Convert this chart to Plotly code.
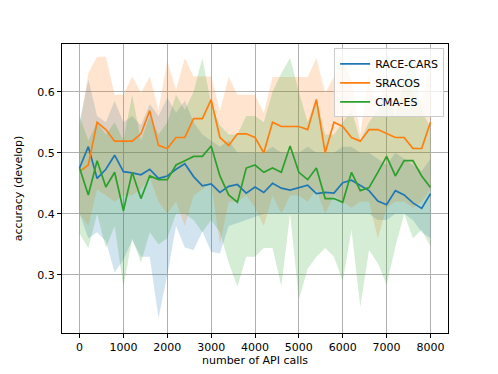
import plotly.graph_objects as go

api_calls = [0, 200, 400, 600, 800, 1000, 1200, 1400, 1600, 1800, 2000, 2200, 2400, 2600,
             2800, 3000, 3200, 3400, 3600, 3800, 4000, 4200, 4400, 4600, 4800, 5000, 5200,
             5400, 5600, 5800, 6000, 6200, 6400, 6600, 6800, 7000, 7200, 7400, 7600, 7800, 8000]

race_cars_mean = [0.475, 0.510, 0.458, 0.473, 0.496, 0.469, 0.467, 0.464, 0.473, 0.458, 0.462,
                  0.473, 0.482, 0.461, 0.446, 0.449, 0.435, 0.445, 0.448, 0.434, 0.444, 0.435,
                  0.450, 0.442, 0.439, 0.443, 0.447, 0.433, 0.435, 0.434, 0.451, 0.455, 0.446,
                  0.438, 0.421, 0.415, 0.438, 0.431, 0.418, 0.409, 0.433]
race_cars_upper = [0.55, 0.62, 0.56, 0.55, 0.585, 0.55, 0.56, 0.545, 0.58, 0.56, 0.59, 0.565,
                   0.585, 0.55, 0.53, 0.52, 0.51, 0.52, 0.50, 0.50, 0.50, 0.50, 0.51, 0.50, 0.50,
                   0.50, 0.51, 0.50, 0.50, 0.50, 0.51, 0.51, 0.50, 0.50, 0.49, 0.48, 0.50, 0.49,
                   0.48, 0.47, 0.49]
race_cars_lower = [0.40, 0.36, 0.37, 0.355, 0.304, 0.325, 0.357, 0.33, 0.33, 0.229, 0.30, 0.38,
                   0.345, 0.341, 0.371, 0.338, 0.335, 0.38, 0.385, 0.39, 0.395, 0.40, 0.40, 0.40,
                   0.40, 0.40, 0.40, 0.40, 0.40, 0.40, 0.40, 0.40, 0.40, 0.40, 0.39, 0.39, 0.40,
                   0.40, 0.39, 0.37, 0.36]

sracos_mean = [0.469, 0.480, 0.550, 0.538, 0.519, 0.519, 0.519, 0.531, 0.569, 0.512, 0.507,
               0.525, 0.525, 0.556, 0.556, 0.587, 0.525, 0.512, 0.531, 0.531, 0.525, 0.500,
               0.550, 0.543, 0.543, 0.543, 0.538, 0.587, 0.500, 0.550, 0.543, 0.525, 0.519,
               0.538, 0.538, 0.531, 0.525, 0.525, 0.507, 0.507, 0.550]
sracos_upper = [0.54, 0.63, 0.657, 0.657, 0.595, 0.595, 0.625, 0.598, 0.625, 0.57, 0.65, 0.603,
                0.655, 0.625, 0.625, 0.625, 0.568, 0.624, 0.595, 0.595, 0.595, 0.565, 0.624,
                0.624, 0.624, 0.624, 0.624, 0.655, 0.598, 0.624, 0.65, 0.62, 0.53, 0.63, 0.56,
                0.63, 0.60, 0.62, 0.60, 0.58, 0.65]
sracos_lower = [0.40, 0.38, 0.44, 0.43, 0.42, 0.43, 0.43, 0.44, 0.46, 0.42, 0.40, 0.42, 0.38,
                0.43, 0.44, 0.45, 0.35, 0.42, 0.42, 0.43, 0.41, 0.38, 0.43, 0.40, 0.43, 0.43,
                0.42, 0.44, 0.40, 0.43, 0.42, 0.41, 0.42, 0.42, 0.36, 0.41, 0.42, 0.42, 0.41,
                0.42, 0.44]

cma_es_mean = [0.475, 0.431, 0.487, 0.444, 0.468, 0.405, 0.468, 0.425, 0.462, 0.456, 0.456,
               0.480, 0.487, 0.494, 0.494, 0.511, 0.462, 0.431, 0.419, 0.475, 0.480, 0.468,
               0.475, 0.468, 0.511, 0.468, 0.456, 0.475, 0.425, 0.425, 0.419, 0.468, 0.438,
               0.443, 0.468, 0.494, 0.462, 0.487, 0.487, 0.462, 0.443]
cma_es_upper = [0.56, 0.52, 0.55, 0.53, 0.55, 0.52, 0.595, 0.52, 0.56, 0.53, 0.55, 0.595, 0.57,
                0.60, 0.655, 0.58, 0.545, 0.53, 0.53, 0.56, 0.56, 0.55, 0.60, 0.63, 0.655, 0.60,
                0.55, 0.59, 0.53, 0.53, 0.55, 0.57, 0.52, 0.55, 0.57, 0.60, 0.56, 0.62, 0.66,
                0.57, 0.54]
cma_es_lower = [0.368, 0.344, 0.40, 0.344, 0.38, 0.28, 0.36, 0.32, 0.37, 0.35, 0.36, 0.40, 0.40,
                0.39, 0.37, 0.39, 0.37, 0.32, 0.281, 0.33, 0.33, 0.344, 0.344, 0.281, 0.40, 0.26,
                0.31, 0.33, 0.344, 0.33, 0.29, 0.374, 0.248, 0.341, 0.319, 0.284, 0.346, 0.40,
                0.36, 0.374, 0.346]

SERIES = [
    ("RACE-CARS", race_cars_mean, race_cars_lower, race_cars_upper, "#1f77b4", "rgba(31,119,180,0.2)"),
    ("SRACOS", sracos_mean, sracos_lower, sracos_upper, "#ff7f0e", "rgba(255,127,14,0.2)"),
    ("CMA-ES", cma_es_mean, cma_es_lower, cma_es_upper, "#2ca02c", "rgba(44,160,44,0.2)"),
]

fig = go.Figure()

# shaded bands first, lines on top
for name, mean, lower, upper, color, band in SERIES:
    fig.add_trace(go.Scatter(x=api_calls, y=lower, mode="lines", line=dict(width=0),
                             showlegend=False, hoverinfo="skip"))
    fig.add_trace(go.Scatter(x=api_calls, y=upper, mode="lines", line=dict(width=0),
                             fill="tonexty", fillcolor=band, showlegend=False, hoverinfo="skip"))

for name, mean, lower, upper, color, band in SERIES:
    fig.add_trace(go.Scatter(x=api_calls, y=mean, mode="lines", name=name,
                             line=dict(color=color, width=1.7)))

axis_style = dict(
    showline=True, mirror=True, linecolor="black", linewidth=1,
    ticks="outside", ticklen=4, tickwidth=0.8, tickcolor="black",
    showgrid=True, gridcolor="#b0b0b0", gridwidth=0.8, zeroline=False,
    tickfont=dict(size=11, color="black"), automargin=False,
)

fig.update_xaxes(
    range=[-400, 8400], tickvals=[0, 1000, 2000, 3000, 4000, 5000, 6000, 7000, 8000],
    title=dict(text="number of API calls", font=dict(size=11, color="black"), standoff=2),
    **axis_style,
)
fig.update_yaxes(
    range=[0.205, 0.678], tickvals=[0.3, 0.4, 0.5, 0.6], tickformat=".1f",
    title=dict(text="accuracy (develop)", font=dict(size=11, color="black"), standoff=12),
    **axis_style,
)

# page body adds an 8px offset, so margins are shifted to compensate
fig.update_layout(
    width=498, height=374,
    margin=dict(l=54, r=58, t=36, b=49),
    paper_bgcolor="white", plot_bgcolor="white",
    font=dict(family="DejaVu Sans", size=11, color="black"),
    showlegend=True,
    legend=dict(
        x=0.99, y=0.985, xanchor="right", yanchor="top", traceorder="normal",
        bgcolor="rgba(255,255,255,0.8)", bordercolor="#cccccc", borderwidth=1,
        font=dict(size=11), tracegroupgap=0, itemwidth=30,
    ),
)

fig.write_html("out.html")
